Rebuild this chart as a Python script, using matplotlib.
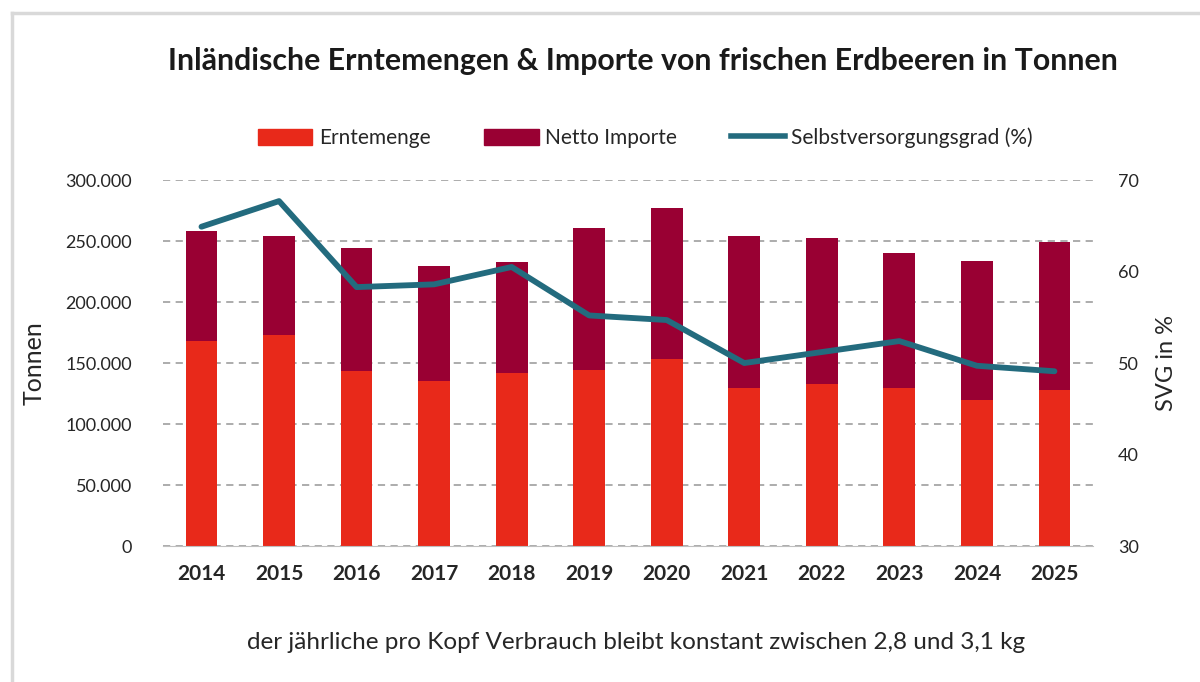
import numpy as np
import matplotlib
matplotlib.use("Agg")
from matplotlib import pyplot as plt
from matplotlib.lines import Line2D
from matplotlib.ticker import FuncFormatter

plt.rcParams['font.family'] = ['Lato', 'DejaVu Sans']

years = ['2014', '2015', '2016', '2017', '2018', '2019', '2020', '2021', '2022', '2023', '2024', '2025']
ernte = [167700, 172600, 143100, 135100, 141700, 143900, 152900, 129600, 133200, 129600, 119800, 127700]
gesamt = [258200, 253800, 244200, 229400, 232500, 260400, 276800, 253800, 252700, 240100, 233800, 249400]
svg = [64.9, 67.7, 58.3, 58.6, 60.5, 55.2, 54.7, 50.0, 51.2, 52.4, 49.7, 49.1]
importe = [g - e for g, e in zip(gesamt, ernte)]

red = '#E8291A'
dark = '#990033'
teal = '#236B7E'
txt = '#262626'

fig = plt.figure(figsize=(12, 6.82), dpi=100)
ax = fig.add_axes([0.1356, 0.1994, 0.7754, 0.5366])
x = np.arange(len(years))
ax.bar(x, ernte, width=0.41, color=red, zorder=2)
ax.bar(x, importe, width=0.41, bottom=ernte, color=dark, zorder=2)

ax.set_xlim(-0.5, 11.5)
ax.set_ylim(0, 300000)
ax.set_yticks(np.arange(0, 300001, 50000))
ax.yaxis.set_major_formatter(FuncFormatter(lambda v, p: '{:,.0f}'.format(v).replace(',', '.')))
ax.grid(axis='y', color='#A6A6A6', linestyle=(0, (4, 3)), linewidth=1.3, zorder=0)
for s in ['top', 'right', 'left']:
    ax.spines[s].set_visible(False)
ax.spines['bottom'].set_color('#BFBFBF')
ax.tick_params(axis='both', length=0, labelsize=13, colors=txt)
ax.tick_params(axis='y', pad=22)
ax.tick_params(axis='x', pad=13)
ax.set_xticks(x)
ax.set_xticklabels(years, fontweight='bold', fontsize=15)
ax.set_ylabel('Tonnen', fontsize=18, color=txt, labelpad=14)

ax2 = ax.twinx()
ax2.plot(x, svg, color=teal, linewidth=4.2, solid_capstyle='round', zorder=3)
ax2.set_ylim(30, 70)
ax2.set_yticks([30, 40, 50, 60, 70])
for s in ['top', 'right', 'left', 'bottom']:
    ax2.spines[s].set_visible(False)
ax2.tick_params(axis='y', length=0, labelsize=13, colors=txt, pad=18)
ax2.set_ylabel('SVG in %', fontsize=17, color=txt, labelpad=12)

fig.text(0.536, 0.91, 'Inländische Erntemengen & Importe von frischen Erdbeeren in Tonnen',
         ha='center', va='center', fontsize=21.8, fontweight='bold', color='#1a1a1a')

handles = [plt.Rectangle((0, 0), 1, 1, color=red),
           plt.Rectangle((0, 0), 1, 1, color=dark),
           Line2D([0], [0], color=teal, linewidth=4)]
fig.legend(handles, ['Erntemenge', 'Netto Importe', 'Selbstversorgungsgrad (%)'],
           loc='center', bbox_to_anchor=(0.538, 0.798), ncol=3, frameon=False,
           fontsize=15, handlelength=2.6, handleheight=0.8, columnspacing=2.6,
           handletextpad=0.3, labelcolor=txt)

fig.text(0.53, 0.058, 'der jährliche pro Kopf Verbrauch bleibt konstant zwischen 2,8 und 3,1 kg',
         ha='center', va='center', fontsize=17.5, color=txt)

# screenshot frame
fig.add_artist(Line2D([0.01, 1.0], [0.981, 0.981], color='#D9D9D9', linewidth=2.5))
fig.add_artist(Line2D([0.01, 0.01], [0.0, 0.981], color='#D9D9D9', linewidth=2.5))

fig.savefig('out.png', dpi=100)
